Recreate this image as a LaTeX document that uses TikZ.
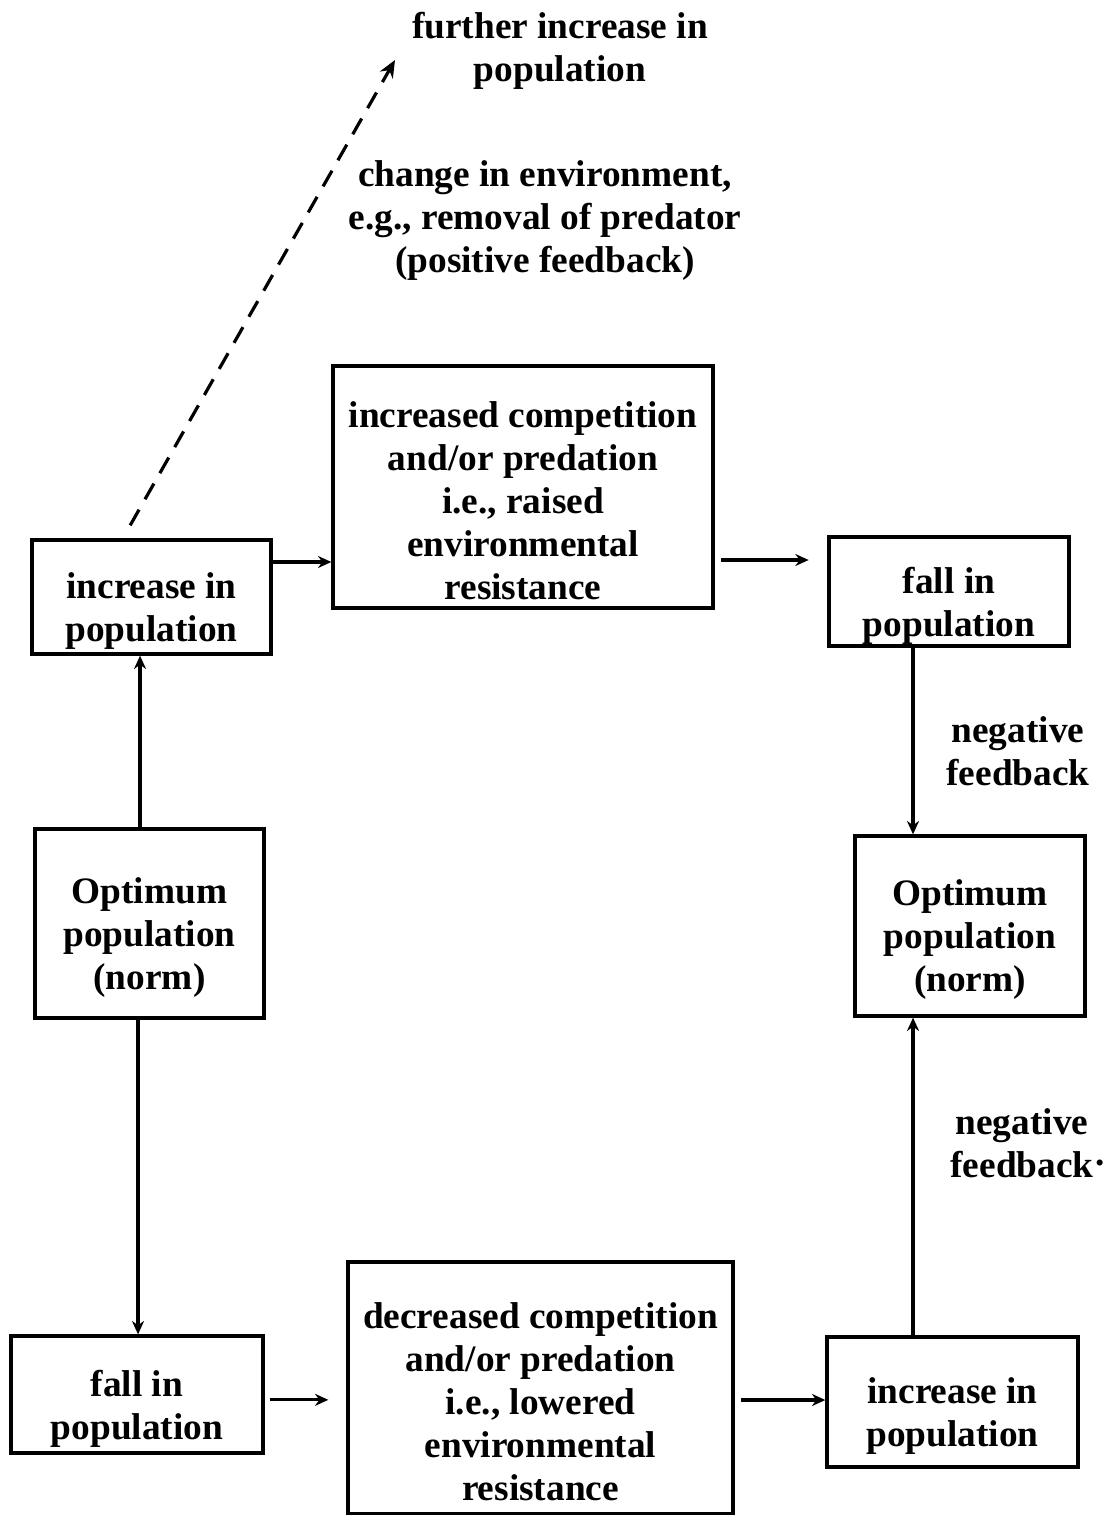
\documentclass[tikz,border=0pt]{standalone}
\usepackage{fontspec}
\setmainfont{Liberation Serif}
\usetikzlibrary{arrows.meta}
\begin{document}
\begin{tikzpicture}[x=0.75pt,y=-0.75pt,
  txt/.style={font=\fontsize{28}{32.25}\selectfont\bfseries},
  box/.style={draw, line width=2.5pt, inner sep=0pt},
  lbl/.style={align=center, inner sep=0pt, txt},
  btxt/.style={lbl, yshift=-10.5pt},
  conn/.style={line width=2.4pt, -{Stealth[length=10pt,width=9pt]}},
  dconn/.style={line width=2.4pt, dash pattern=on 13.5pt off 9pt, -{Stealth[length=13pt,width=11pt]}}]
\useasboundingbox (0,0) rectangle (1109,1515);

\node[box, minimum width=179.25pt, minimum height=85.5pt] (linc) at (151.5,597) {};
\node[btxt] (linct) at (linc) {increase in\\population};
\node[box, minimum width=285pt, minimum height=181.5pt] (mtop) at (523,487) {};
\node[btxt] (mtopt) at (mtop) {increased competition\\and/or predation\\i.e., raised\\environmental\\resistance};
\node[box, minimum width=180pt, minimum height=81.75pt] (rfall) at (949,591.5) {};
\node[btxt] (rfallt) at (rfall) {fall in\\population};
\node[box, minimum width=171.75pt, minimum height=141.75pt] (lopt) at (149.5,923.5) {};
\node[btxt] (loptt) at (lopt) {Optimum\\population\\(norm)};
\node[box, minimum width=172.5pt, minimum height=135pt] (ropt) at (970,926) {};
\node[btxt] (roptt) at (ropt) {Optimum\\population\\(norm)};
\node[box, minimum width=189pt, minimum height=87.75pt] (lfall) at (137,1394.5) {};
\node[btxt] (lfallt) at (lfall) {fall in\\population};
\node[box, minimum width=288.75pt, minimum height=189pt] (mbot) at (540.5,1388) {};
\node[btxt] (mbott) at (mbot) {decreased competition\\and/or predation\\i.e., lowered\\environmental\\resistance};
\node[box, minimum width=188.25pt, minimum height=97.5pt] (rinc) at (952.5,1402) {};
\node[btxt] (rinct) at (rinc) {increase in\\population};

\node[lbl] (further) at (560,51) {further increase in\\population};
\node[lbl] (change) at (545,221) {change in environment,\\e.g., removal of predator\\(positive feedback)};
\node[lbl] (neg1) at (1018,751) {negative\\feedback};
\node[lbl] (neg2) at (1022,1143) {negative\\feedback};
\node[inner sep=0pt, txt] (dot) at (1100,1163) {.};

% connectors
\coordinate (a1) at ([xshift=-7.1pt]lopt.north);
\draw[conn] (a1) -- (a1 |- linc.south);
\coordinate (b1) at ([yshift=26.25pt]linc.east);
\draw[conn] (b1) -- (b1 -| mtop.west);
\coordinate (c1) at ([yshift=-54.75pt,xshift=5pt]mtop.east);
\draw[conn, shorten >=14pt] (c1) -- (c1 -| rfall.west);
\coordinate (d1) at ([xshift=-27pt]rfall.south);
\draw[conn] (d1) -- (d1 |- ropt.north);
\coordinate (e1) at ([xshift=-29.6pt]rinc.north);
\draw[conn] (e1) -- (e1 |- ropt.south);
\coordinate (f1) at ([xshift=-8.6pt]lopt.south);
\draw[conn] (f1) -- (f1 |- lfall.north);
\coordinate (g1) at ([yshift=-4pt,xshift=3.75pt]lfall.east);
\draw[conn, shorten >=13.5pt] (g1) -- (g1 -| mbot.west);
\coordinate (h1) at ([yshift=-9pt,xshift=5pt]mbot.east);
\draw[conn] (h1) -- (h1 -| rinc.west);
\coordinate (i1) at ([xshift=-16pt,yshift=9.75pt]linc.north);
\coordinate (ftip) at (395,60);
\draw[dconn] (i1) -- (ftip);
\end{tikzpicture}
\end{document}
